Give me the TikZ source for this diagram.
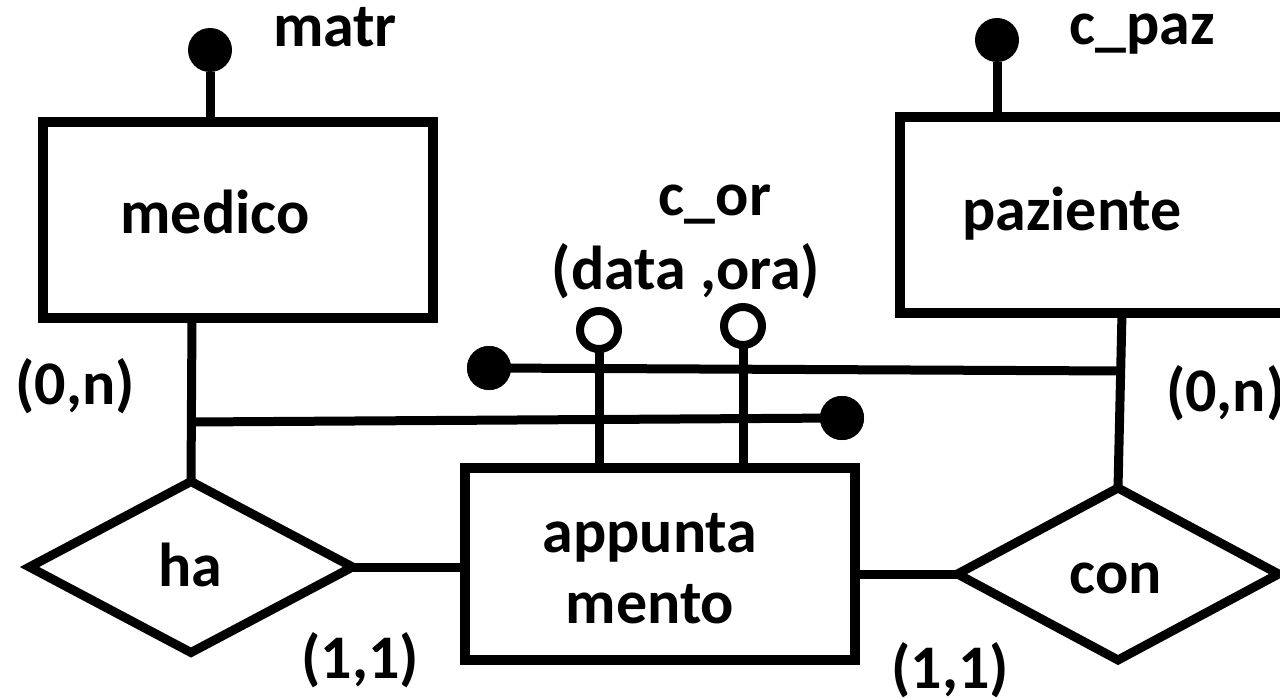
\documentclass[tikz,border=0pt]{standalone}
\usepackage{fontspec}
\setmainfont{Carlito}[BoldFont=Carlito Bold]
\usetikzlibrary{shapes.geometric}
\begin{document}
\begin{tikzpicture}[x=1pt,y=-1pt,
  every node/.style={font=\fontsize{62}{68}\selectfont\bfseries, inner sep=0pt, outer sep=0pt},
  entity/.style={draw, line width=10pt, rectangle},
  rel/.style={draw, line width=9pt, shape=diamond, aspect=1.9},
  conn/.style={line width=9pt},
  keydot/.style={circle, fill=black, minimum size=44pt},
  opendot/.style={circle, draw, line width=8pt, fill=white, minimum size=38pt},
  lbl/.style={anchor=base}
]
\useasboundingbox (0,0) rectangle (1280,698);
\clip (0,0) rectangle (1280,698);

% entities
\node[entity, minimum width=390pt, minimum height=196pt] (medico) at (238,220) {};
\node[entity, minimum width=390pt, minimum height=196pt] (paziente) at (1095,215) {};
\node[entity, minimum width=390pt, minimum height=192pt] (app) at (660,564) {};

% relationships
\node[rel, minimum width=323pt, minimum height=171pt] (ha) at (191,567) {};
\node[rel, minimum width=321pt, minimum height=172pt] (con) at (1118,574) {};

% texts
\node[lbl] (tmedico) at (215,233) {medico};
\node[lbl] (tpaz) at (1072,230) {paziente};
\node[lbl] (tapp1) at (650,552) {appunta};
\node[lbl] (tapp2) at (650,623) {mento};
\node[lbl] (tha) at (190,586) {ha};
\node[lbl] (tcon) at (1116,593) {con};
\node[lbl] (tmatr) at (335,47) {matr};
\node[lbl] (tcpaz) at (1142,45) {c\_paz};
\node[lbl] (tcor) at (715,215) {c\_or};
\node[lbl] (tdataora) at (686,289) {(data ,ora)};
\node[lbl] (card1) at (75,404) {(0,n)};
\node[lbl, anchor=base west] (card2) at (1166,411) {(0,n)};
\node[lbl] (card3) at (360,678) {(1,1)};
\node[lbl] (card4) at (950,688) {(1,1)};

% identifier dots
\node[keydot] (kmatr) at (210,50) {};
\node[keydot] (kcpaz) at (997,40) {};
\node[keydot] (kl1) at (489,368) {};
\node[keydot] (kl2) at (842,418) {};
\node[opendot] (odata) at (599,330) {};
\node[opendot] (oora) at (743,326) {};

% connectors
\coordinate (mb) at (192,318);
\coordinate (pb) at (1122,313);
\coordinate (j1) at (192,422);
\coordinate (j2) at (1122,371);
\draw[conn] (kmatr.south) -- (kmatr.south |- medico.north);
\draw[conn] (kcpaz.south) -- (kcpaz.south |- paziente.north);
\draw[conn] (mb) -- (ha.north);
\draw[conn] (pb) -- (con.north);
\draw[conn] (ha.east) -- (ha.east -| app.west);
\draw[conn] (con.west -| app.east) -- (con.west);
\draw[conn] (odata.south) -- (odata.south |- app.north);
\draw[conn] (oora.south) -- (oora.south |- app.north);
\draw[conn] (kl1.center) -- (j2);
\draw[conn] (j1) -- (kl2.center);
\node[keydot] at (kl1) {};
\node[keydot] at (kl2) {};
\end{tikzpicture}
\end{document}
